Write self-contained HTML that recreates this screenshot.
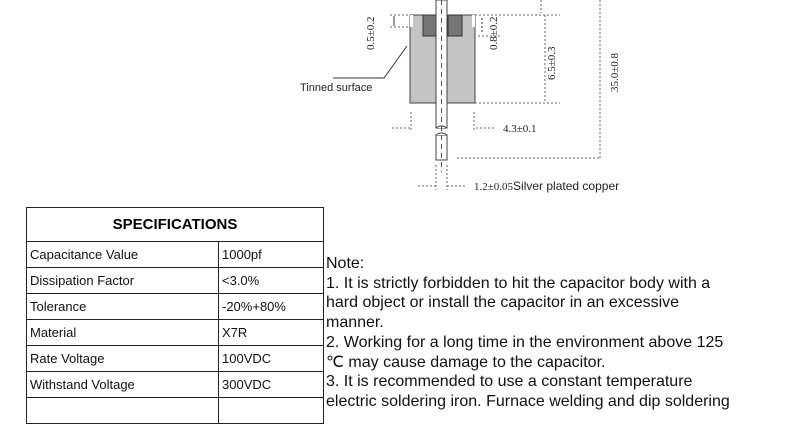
<!DOCTYPE html>
<html><head><style>
body{margin:0;width:800px;height:400px;background:#fff;position:relative;overflow:hidden;font-family:"Liberation Sans",Arial,sans-serif;}
table{position:absolute;left:26px;top:207px;border-collapse:collapse;width:298px;}
td{border:1.5px solid #222;height:25px;padding:0 0 0 3px;font-size:13px;color:#111;}
th{border:1.5px solid #222;height:31px;font-size:15px;font-weight:bold;}
#note{position:absolute;left:326px;top:254px;font-size:16px;line-height:19.7px;color:#111;width:480px;}
</style></head><body>
<svg width="800" height="200" style="position:absolute;left:0;top:0" font-family="Liberation Serif,serif">
<rect x="410" y="15" width="65" height="88" fill="#c4c4c4" stroke="#444"/>
<rect x="410" y="15" width="3" height="12" fill="#fff"/>
<rect x="472" y="15" width="3" height="12" fill="#fff"/>
<rect x="423" y="15" width="14" height="21" fill="#777" stroke="#333"/>
<rect x="448" y="15" width="14" height="21" fill="#777" stroke="#333"/>
<rect x="436" y="0" width="11" height="128" fill="#fff" stroke="#444"/>
<rect x="436" y="135" width="11" height="25" fill="#fff" stroke="#444"/>
<path d="M436 128 q5 -4 11 0 M436 135 q5 -4 11 0" stroke="#444" fill="#fff"/>
<line x1="441.5" y1="0" x2="441.5" y2="172" stroke="#555" stroke-dasharray="5,4"/>
<g stroke="#666" stroke-dasharray="2,2" fill="none">
<line x1="390" y1="15" x2="410" y2="15"/><line x1="390" y1="27" x2="410" y2="27"/>
<line x1="475" y1="15" x2="560" y2="15"/><line x1="478" y1="36" x2="500" y2="36"/>
<line x1="475" y1="103" x2="560" y2="103"/>
<line x1="545" y1="15" x2="545" y2="103"/>
<line x1="411" y1="112" x2="411" y2="130"/><line x1="474" y1="112" x2="474" y2="130"/>
<line x1="457" y1="158" x2="600" y2="158"/>
<line x1="600" y1="0" x2="600" y2="158"/>
<line x1="436" y1="165" x2="436" y2="190"/><line x1="447" y1="165" x2="447" y2="190"/>
<line x1="392" y1="128" x2="410" y2="128"/><line x1="476" y1="128" x2="495" y2="128"/>
<line x1="418" y1="186" x2="436" y2="186"/><line x1="447" y1="186" x2="465" y2="186"/>
<line x1="541" y1="0" x2="541" y2="13"/>
</g>
<line x1="394" y1="16" x2="394" y2="26" stroke="#333"/>
<line x1="482" y1="18" x2="482" y2="34" stroke="#333" stroke-dasharray="2,2"/>
<path d="M407 46 L384 78 L333 78" stroke="#333" fill="none"/>
<text x="300" y="91" font-family="Liberation Sans,sans-serif" font-size="11" fill="#222">Tinned surface</text>
<text x="503" y="132" font-size="11" fill="#222">4.3±0.1</text>
<text x="474" y="190" font-size="11" fill="#222">1.2±0.05<tspan font-family="Liberation Sans,sans-serif" font-size="12">Silver plated copper</tspan></text>
<text transform="translate(374,50) rotate(-90)" font-size="11" fill="#222">0.5±0.2</text>
<text transform="translate(497,50) rotate(-90)" font-size="11" fill="#222">0.8±0.2</text>
<text transform="translate(555,80) rotate(-90)" font-size="11" fill="#222">6.5±0.3</text>
<text transform="translate(618,92) rotate(-90)" font-size="11" fill="#222">35.0±0.8</text>
</svg>
<table>
<tr><th colspan="2">SPECIFICATIONS</th></tr>
<tr><td style="width:188px">Capacitance Value</td><td>1000pf</td></tr>
<tr><td>Dissipation Factor</td><td>&lt;3.0%</td></tr>
<tr><td>Tolerance</td><td>-20%+80%</td></tr>
<tr><td>Material</td><td>X7R</td></tr>
<tr><td>Rate Voltage</td><td>100VDC</td></tr>
<tr><td>Withstand Voltage</td><td>300VDC</td></tr>
<tr><td>&nbsp;</td><td></td></tr>
</table>
<div id="note">Note:<br>1. It is strictly forbidden to hit the capacitor body with a<br>hard object or install the capacitor in an excessive<br>manner.<br>2. Working for a long time in the environment above 125<br>℃ may cause damage to the capacitor.<br>3. It is recommended to use a constant temperature<br>electric soldering iron. Furnace welding and dip soldering</div>
</body></html>
